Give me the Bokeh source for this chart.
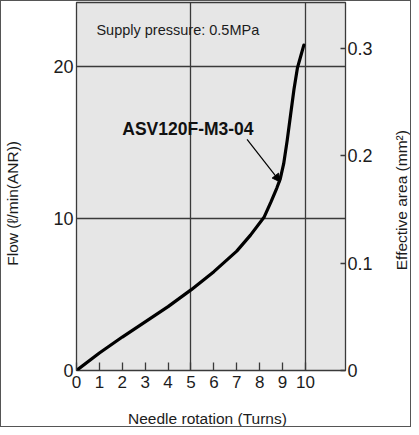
import math
from bokeh.plotting import figure
from bokeh.models import (Range1d, LinearAxis, FixedTicker, Arrow, NormalHead, Label)
from bokeh.core.properties import value
from bokeh.embed import file_html
from bokeh.resources import INLINE

# Data
turns = [0, 1, 2, 3, 4, 5, 6, 7, 7.6, 8.2, 8.5, 8.75, 8.9, 9.05, 9.2, 9.35, 9.5, 9.65, 9.8, 9.93]
flow = [0, 1.15, 2.2, 3.2, 4.2, 5.3, 6.5, 7.85, 8.9, 10.1, 11.1, 12.0, 12.6, 13.6, 15.1, 16.8, 18.5, 19.9, 20.7, 21.4]

x_ticks = [0, 1, 2, 3, 4, 5, 6, 7, 8, 9, 10]
flow_ticks = [0, 10, 20]
area_ticks = [0, 0.1, 0.2, 0.3]
x_grid = [5, 10]
y_grid = [10, 20]

x_title = "Needle rotation (Turns)"
y_title = "Flow (ℓ/min(ANR))"
y2_title = "Effective area (mm²)"
model_label = "ASV120F-M3-04"
model_label_pos = (2.0, 15.9)
arrow_from = (7.45, 15.2)
arrow_to = (8.9, 12.4)
pressure_label = "Supply pressure: 0.5MPa"
pressure_label_pos = (0.87, 22.4)

FONT = "Liberation Sans"
GRID = "#3a3a3a"
TXT = "#1c1c1c"

p = figure(width=411, height=427, output_backend="svg", toolbar_location=None,
           x_range=Range1d(0, 11.75), y_range=Range1d(0, 24.2),
           min_border_left=75, min_border_right=67, min_border_top=1,
           min_border_bottom=58)
p.styles = {"border": "1.3px solid #555"}
p.background_fill_color = "#e6e6e6"
p.border_fill_color = "white"
p.outline_line_color = GRID
p.outline_line_width = 1.3

p.extra_y_ranges = {"area": Range1d(0, 0.3429)}

# bottom axis
xa = p.xaxis[0]
xa.ticker = FixedTicker(ticks=x_ticks)
xa.axis_line_color = None
xa.major_tick_in = 8
xa.major_tick_out = 0
xa.major_tick_line_color = GRID
xa.major_tick_line_width = 1.3
xa.minor_tick_line_color = None
xa.major_label_text_font = FONT
xa.major_label_text_font_size = "17px"
xa.major_label_text_color = TXT
xa.major_label_standoff = 5

# left axis
ya = p.yaxis[0]
ya.ticker = FixedTicker(ticks=flow_ticks)
ya.axis_line_color = None
ya.major_tick_in = 0
ya.major_tick_out = 0
ya.minor_tick_line_color = None
ya.major_label_text_font = FONT
ya.major_label_text_font_size = "18px"
ya.major_label_text_color = TXT
ya.major_label_standoff = 3

# right axis
ra = LinearAxis(y_range_name="area", ticker=FixedTicker(ticks=area_ticks))
ra.axis_line_color = None
ra.major_tick_in = 5
ra.major_tick_out = 0
ra.major_tick_line_color = GRID
ra.major_tick_line_width = 1.3
ra.minor_tick_line_color = None
ra.major_label_text_font = FONT
ra.major_label_text_font_size = "18px"
ra.major_label_text_color = TXT
ra.major_label_standoff = 2
p.add_layout(ra, "right")

# axis titles, placed through the data scales in the side panels
title_style = dict(text_font=FONT, text_font_size="15.5px", text_color=TXT,
                   text_align="center", text_baseline="middle")
p.add_layout(Label(x=5.72, y=-3.16, text=x_title, **title_style), "below")
p.add_layout(Label(x=-2.79, y=10.99, text=y_title, angle=math.pi / 2, **title_style), "left")
p.add_layout(Label(x=14.18, y=11.2, text=y2_title, angle=math.pi / 2, **title_style), "right")

# grids
p.xgrid.ticker = FixedTicker(ticks=x_grid)
p.ygrid.ticker = FixedTicker(ticks=y_grid)
for g in (p.xgrid[0], p.ygrid[0]):
    g.grid_line_color = GRID
    g.grid_line_width = 1.3
    g.grid_line_alpha = 1.0

# curve
p.line(turns, flow, line_color="black", line_width=3.2, line_cap="round", line_join="round")

# labels
p.text(x=[pressure_label_pos[0]], y=[pressure_label_pos[1]], text=[pressure_label],
       text_font=value(FONT), text_font_size="14.5px", text_baseline="middle",
       text_align="left", text_color=TXT)
p.text(x=[model_label_pos[0]], y=[model_label_pos[1]], text=[model_label],
       text_font=value(FONT), text_font_size="17.5px", text_font_style="bold",
       text_baseline="middle", text_align="left", text_color="#111")

p.add_layout(Arrow(end=NormalHead(size=8, fill_color="black", line_color="black"),
                   x_start=arrow_from[0], y_start=arrow_from[1],
                   x_end=arrow_to[0], y_end=arrow_to[1],
                   line_color="black", line_width=1.2))

open("out.html", "w").write(file_html(p, INLINE))
